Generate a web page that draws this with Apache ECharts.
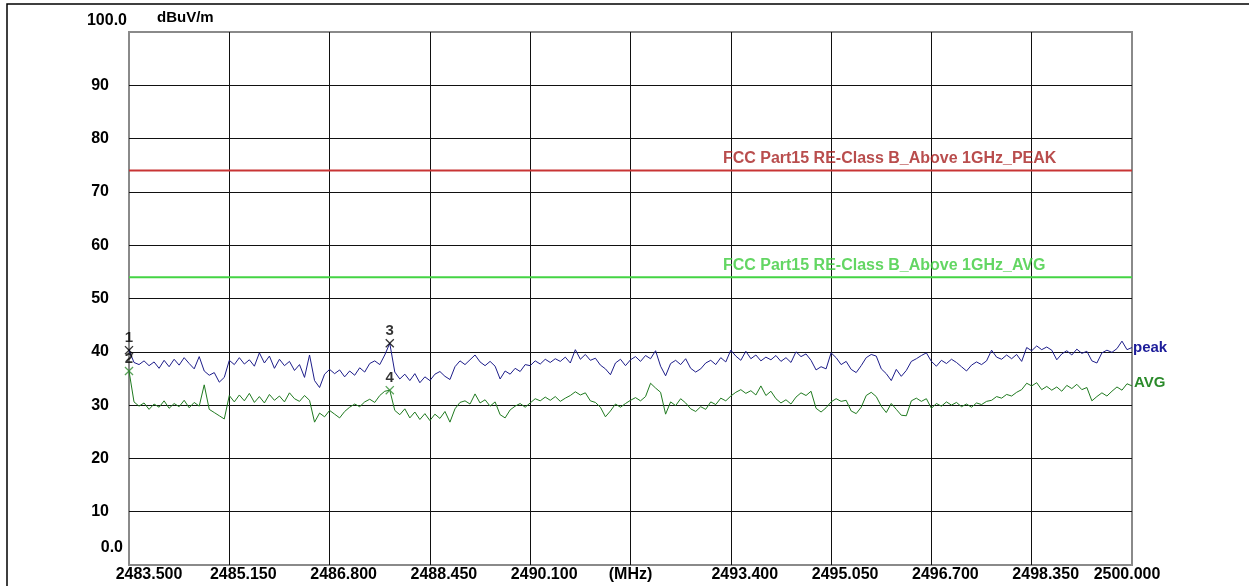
<!DOCTYPE html>
<html>
<head>
<meta charset="utf-8">
<script src="https://cdn.jsdelivr.net/npm/echarts@6/dist/echarts.min.js"></script>
<style>
html,body{margin:0;padding:0;background:#fff;}
#chart{width:1249px;height:586px;}
</style>
</head>
<body>
<div id="chart"></div>
<script>
// ---- data ----
const freqStart = 2483.5;   // MHz
const freqStop = 2500.0;    // MHz
const xTickLabels = ['2483.500','2485.150','2486.800','2488.450','2490.100','(MHz)','2493.400','2495.050','2496.700','2498.350','2500.000'];
const yTickLabels = ['0.0','10','20','30','40','50','60','70','80','90','100.0'];
const yUnit = 'dBuV/m';

// peak trace (dBuV/m), sweep points evenly spaced from freqStart to freqStop
const peakValues = [
40.3,38.0,37.6,38.3,37.4,38.1,36.9,38.4,37.2,38.6,
37.5,38.9,37.8,36.8,39.1,36.4,35.6,36.1,34.3,35.2,
38.4,37.6,38.9,37.7,38.5,37.3,39.8,37.9,39.2,36.9,
38.6,37.4,38.2,36.5,37.6,35.2,39.4,34.6,33.3,35.8,
36.7,35.9,36.6,35.3,36.4,35.6,37.0,36.2,37.8,38.3,
37.6,39.4,41.6,36.2,34.9,35.8,34.6,35.9,34.2,35.3,
34.6,35.8,36.3,35.4,34.8,37.2,38.3,37.6,38.5,39.4,
38.1,37.4,38.2,37.3,34.9,36.4,35.8,36.9,36.3,37.6,
37.4,38.3,37.7,38.6,38.0,38.7,38.2,39.0,37.9,40.4,
38.6,39.5,38.4,38.8,37.5,36.8,35.7,37.9,38.6,37.4,
38.5,39.1,38.2,39.3,38.7,40.2,37.3,35.5,37.8,38.4,
37.6,38.7,36.9,36.2,36.8,37.9,38.4,37.6,38.9,38.1,
40.3,39.2,38.4,40.1,38.7,39.4,38.3,39.0,38.5,39.3,
38.2,38.9,38.0,40.0,39.1,39.6,38.4,36.6,37.2,36.8,
39.8,38.9,37.6,38.2,36.7,36.1,37.4,38.9,39.5,39.2,
36.8,35.9,34.6,36.7,35.4,36.5,38.2,38.7,39.3,39.8,
38.2,37.3,38.4,37.8,38.6,38.0,37.2,36.4,37.5,38.1,
37.6,38.3,40.3,39.0,38.6,39.4,38.7,39.5,38.2,40.8,
40.2,41.1,40.4,40.9,40.3,38.5,39.6,40.2,39.4,40.5,
39.7,40.1,38.3,37.9,39.8,40.3,39.9,40.6,42.0,40.4,
40.8
];

// average trace (dBuV/m)
const avgValues = [
36.4,30.6,29.8,30.4,29.2,30.2,29.6,30.8,29.4,30.3,
29.7,30.9,29.5,30.5,29.8,33.8,29.2,28.6,28.0,27.4,
31.8,30.6,31.9,30.8,32.2,30.5,31.6,30.4,32.0,30.9,
31.7,30.6,32.3,31.2,30.7,31.8,30.9,26.8,28.5,27.8,
29.0,28.3,27.6,28.8,29.6,30.2,29.7,30.6,31.1,30.5,
31.8,32.6,32.8,29.0,28.2,29.3,27.6,28.7,27.3,28.4,
27.1,28.3,27.5,28.8,26.8,29.3,30.5,30.8,30.2,32.1,
30.4,31.0,29.8,30.6,28.2,27.6,29.1,29.8,30.3,29.6,
30.4,31.2,30.8,31.5,30.9,31.6,30.7,31.3,31.8,32.5,
31.9,32.3,30.8,30.5,29.6,27.8,28.9,30.2,29.6,30.3,
30.9,31.4,30.8,31.6,34.1,33.2,32.4,28.3,30.6,29.9,
31.2,30.4,29.3,28.8,29.7,29.2,30.6,30.1,31.3,30.8,
31.7,32.4,32.9,32.2,32.7,31.9,33.6,31.8,32.6,31.2,
30.4,31.0,30.2,31.5,32.3,31.8,32.6,29.4,28.7,29.5,
30.6,31.2,30.7,30.9,28.9,28.4,29.6,31.8,32.4,31.6,
29.8,28.6,30.3,29.2,28.1,28.0,30.8,31.3,30.7,31.2,
29.4,30.3,29.8,30.6,30.0,30.5,29.7,30.2,29.6,30.4,
30.1,30.7,30.9,31.6,31.3,32.0,31.7,32.4,32.9,34.1,
33.6,34.2,32.9,33.5,32.8,33.4,32.6,33.7,33.1,33.9,
32.9,33.3,30.8,31.6,32.3,31.7,32.6,33.4,32.8,34.0,
33.6
];

// limit lines
const limitPeakValue = 74;
const limitAvgValue = 54;
const limitPeakText = 'FCC Part15 RE-Class B_Above 1GHz_PEAK';
const limitAvgText = 'FCC Part15 RE-Class B_Above 1GHz_AVG';
const limitLabelFreq = 2493.27;

// markers
const markerNames = ['1','2','3','4'];
const markerFreqs = [2483.5, 2483.5, 2487.79, 2487.79];
const markerValues = [40.3, 36.4, 41.6, 32.8];
const markerTrace = ['peak','avg','peak','avg'];

// ---- build ----
const span = freqStop - freqStart;
const tickStep = span / 10;
const n = peakValues.length;
const off = i => i * span / (n - 1);
const peakData = peakValues.map((v, i) => [off(i), v]);
const avgData = avgValues.map((v, i) => [off(i), v]);

const FONT = '"Liberation Sans", Arial, sans-serif';
const PEAK_COLOR = '#1d1d8a';
const AVG_COLOR = '#1f7a1f';
const LIM_RED = '#c83434';
const LIM_GREEN = '#44d444';

const xPad = {
  f: [0,0,0,40], g: [0,0,0,28], m: [0,0,0,0], l: [0,10,0,0]
};
const xRich = {};
Object.keys(xPad).forEach(k => {
  xRich[k] = {fontFamily: FONT, fontWeight: 'bold', fontSize: 16, color: '#000', padding: xPad[k]};
});
const yRich = {
  n: {fontFamily: FONT, fontWeight: 'bold', fontSize: 16, color: '#000', padding: [0,18,0,0]},
  z: {fontFamily: FONT, fontWeight: 'bold', fontSize: 16, color: '#000', padding: [0,4,34,0]},
  h: {fontFamily: FONT, fontWeight: 'bold', fontSize: 16, color: '#000', padding: [0,0,22,0]}
};

const chart = echarts.init(document.getElementById('chart'), null, {renderer: 'canvas'});
chart.setOption({
  animation: false,
  backgroundColor: '#fff',
  graphic: [{
    type: 'rect', z: -10, silent: true,
    shape: {x: 7, y: 4, width: 1400, height: 800},
    style: {fill: 'none', stroke: '#000', lineWidth: 1.5}
  }],
  grid: {
    left: 129, top: 32, right: 117, bottom: 21,
    show: true, borderColor: '#8a8a8a', borderWidth: 2, backgroundColor: '#fff'
  },
  xAxis: {
    type: 'value', min: 0, max: span, interval: tickStep,
    axisLine: {show: false}, axisTick: {show: false},
    splitLine: {show: true, showMinLine: false, showMaxLine: false, lineStyle: {color: '#111', width: 1}},
    axisLabel: {
      margin: 2, showMinLabel: true, showMaxLabel: true,
      formatter: v => {
        const k = Math.round(v / tickStep);
        const t = xTickLabels[k];
        const key = k === 0 ? 'f' : (k === 10 ? 'l' : (t === '(MHz)' ? 'm' : 'g'));
        return '{' + key + '|' + t + '}';
      },
      rich: xRich
    }
  },
  yAxis: {
    type: 'value', min: 0, max: 100, interval: 10,
    name: yUnit, nameLocation: 'end', nameGap: 14,
    nameTextStyle: {fontFamily: FONT, fontWeight: 'bold', fontSize: 15, color: '#000', align: 'left', verticalAlign: 'middle', padding: [0,0,0,28]},
    axisLine: {show: false}, axisTick: {show: false},
    splitLine: {show: true, showMinLine: false, showMaxLine: false, lineStyle: {color: '#111', width: 1}},
    axisLabel: {
      margin: 2, showMinLabel: true, showMaxLabel: true,
      formatter: v => {
        const k = Math.round(v / 10);
        const key = k === 0 ? 'z' : (k === 10 ? 'h' : 'n');
        return '{' + key + '|' + yTickLabels[k] + '}';
      },
      rich: yRich
    }
  },
  series: [
    {
      type: 'line', name: 'limitPeak', symbol: 'none', silent: true, z: 3,
      data: [[0, limitPeakValue], [span, limitPeakValue]],
      lineStyle: {color: LIM_RED, width: 2}
    },
    {
      type: 'line', name: 'limitAvg', symbol: 'none', silent: true, z: 3,
      data: [[0, limitAvgValue], [span, limitAvgValue]],
      lineStyle: {color: LIM_GREEN, width: 2}
    },
    {
      type: 'line', name: 'AVG', symbol: 'none', z: 4,
      data: avgData,
      lineStyle: {color: AVG_COLOR, width: 1},
      endLabel: {show: true, formatter: 'AVG', color: '#2a8a2a', fontFamily: FONT, fontWeight: 'bold', fontSize: 15, distance: 2, offset: [0, -3]}
    },
    {
      type: 'line', name: 'peak', symbol: 'none', z: 5,
      data: peakData,
      lineStyle: {color: PEAK_COLOR, width: 1},
      endLabel: {show: true, formatter: 'peak', color: '#1d1d9a', fontFamily: FONT, fontWeight: 'bold', fontSize: 15, distance: 1}
    },
    {
      type: 'scatter', name: 'markers', z: 6,
      symbol: 'path://M0,1L1,0L5,4L9,0L10,1L6,5L10,9L9,10L5,6L1,10L0,9L4,5Z',
      symbolSize: 9,
      data: markerNames.map((nm, i) => ({
        name: nm,
        value: [markerFreqs[i] - freqStart, markerValues[i]],
        itemStyle: {color: markerTrace[i] === 'peak' ? '#000' : '#2e8b2e'}
      })),
      label: {show: true, position: 'top', distance: 0, formatter: p => p.name, color: '#000', fontFamily: FONT, fontWeight: 'bold', fontSize: 15}
    },
    {
      type: 'scatter', name: 'limitLabels', z: 6, silent: true, symbolSize: 0,
      data: [
        {value: [limitLabelFreq - freqStart, limitPeakValue], name: limitPeakText, label: {color: '#a82020'}},
        {value: [limitLabelFreq - freqStart, limitAvgValue], name: limitAvgText, label: {color: '#3ccc3c'}}
      ],
      label: {show: true, position: [0, -12], align: 'left', verticalAlign: 'middle', formatter: p => p.name, fontFamily: FONT, fontWeight: 'bold', fontSize: 16}
    }
  ]
});
</script>
</body>
</html>
